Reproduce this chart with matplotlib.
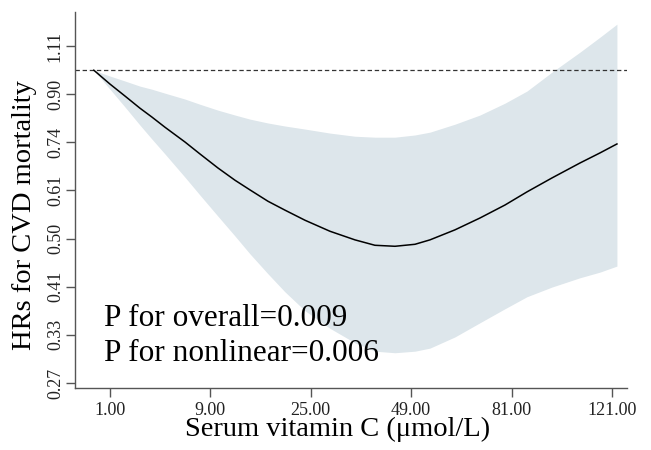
import numpy as np
import matplotlib.pyplot as plt

plt.rcParams['font.family'] = ['Liberation Serif', 'DejaVu Serif']

# restricted cubic spline: serum vitamin C vs HR for CVD mortality
vitc = [0.46, 1.0, 1.69, 2.55, 3.37, 4.39, 6.22, 7.80, 9.93, 12.18, 14.36, 17.20, 20.12, 23.86,
        28.97, 34.58, 39.42, 44.59, 50.07, 54.39, 61.98, 70.07, 78.66, 86.62, 96.14, 107.4,
        115.8, 123.2]
hr = [1.00, 0.944, 0.898, 0.854, 0.823, 0.789, 0.742, 0.706, 0.666, 0.633, 0.608, 0.580, 0.559,
      0.536, 0.512, 0.494, 0.483, 0.481, 0.485, 0.494, 0.515, 0.541, 0.571, 0.603, 0.639,
      0.680, 0.709, 0.736]
hr_upper = [1.00, 0.976, 0.956, 0.936, 0.924, 0.909, 0.887, 0.868, 0.847, 0.830, 0.816, 0.803,
            0.793, 0.783, 0.770, 0.760, 0.757, 0.757, 0.764, 0.773, 0.799, 0.830, 0.872, 0.917,
            0.992, 1.078, 1.147, 1.211]
hr_lower = [1.00, 0.924, 0.858, 0.796, 0.751, 0.706, 0.641, 0.595, 0.545, 0.502, 0.466, 0.429,
            0.398, 0.368, 0.342, 0.322, 0.311, 0.309, 0.311, 0.315, 0.330, 0.350, 0.371, 0.390,
            0.406, 0.422, 0.432, 0.443]

xticks = [1, 9, 25, 49, 81, 121]
yticks_log = [-1.3, -1.1, -0.9, -0.7, -0.5, -0.3, -0.1, 0.1]
p_overall = "0.009"
p_nonlinear = "0.006"

fig = plt.figure(figsize=(6.51, 4.50), dpi=100)
ax = fig.add_axes([75 / 651, 1 - 388 / 450, 552 / 651, 376 / 450])

ax.set_xscale('function', functions=(np.sqrt, np.square))
ax.set_yscale('log')

ax.fill_between(vitc, hr_lower, hr_upper, color='#dde6eb', lw=0, zorder=1)
ax.plot(vitc, hr, color='black', lw=1.1, zorder=3)
ax.axhline(1.0, color='#333333', lw=0.9, ls=(0, (3.5, 2.2)), zorder=2)

ax.set_xlim(0.303 ** 2, 11.3 ** 2)
ax.set_ylim(np.exp(-1.321), np.exp(0.242))

ax.set_xticks(xticks)
ax.set_xticklabels([f"{v:.2f}" for v in xticks])
yt = np.exp(yticks_log)
ax.set_yticks(yt)
ax.set_yticklabels([f"{v:.2f}" for v in yt], rotation=90, va='center')
ax.yaxis.set_minor_locator(plt.NullLocator())
ax.xaxis.set_minor_locator(plt.NullLocator())

for s in ['top', 'right']:
    ax.spines[s].set_visible(False)
for s in ['left', 'bottom']:
    ax.spines[s].set_color('#555555')
    ax.spines[s].set_linewidth(1.0)
ax.tick_params(colors='#555555', labelcolor='#222222', length=6.5, width=1.0, labelsize=13)
ax.tick_params(axis='y', pad=1.5)

ax.set_xlabel("Serum vitamin C (\u03bcmol/L)", fontsize=20.5, color='black')
ax.set_ylabel("HRs for CVD mortality", fontsize=20.5, color='black')
ax.xaxis.set_label_coords(0.476, -0.078)
ax.yaxis.set_label_coords(-0.068, 0.46)

ax.text(0.052, 0.165, f"P for overall={p_overall}", transform=ax.transAxes,
        fontsize=22.5, va='baseline')
ax.text(0.052, 0.072, f"P for nonlinear={p_nonlinear}", transform=ax.transAxes,
        fontsize=22.5, va='baseline')

fig.savefig('out.png', dpi=100)
